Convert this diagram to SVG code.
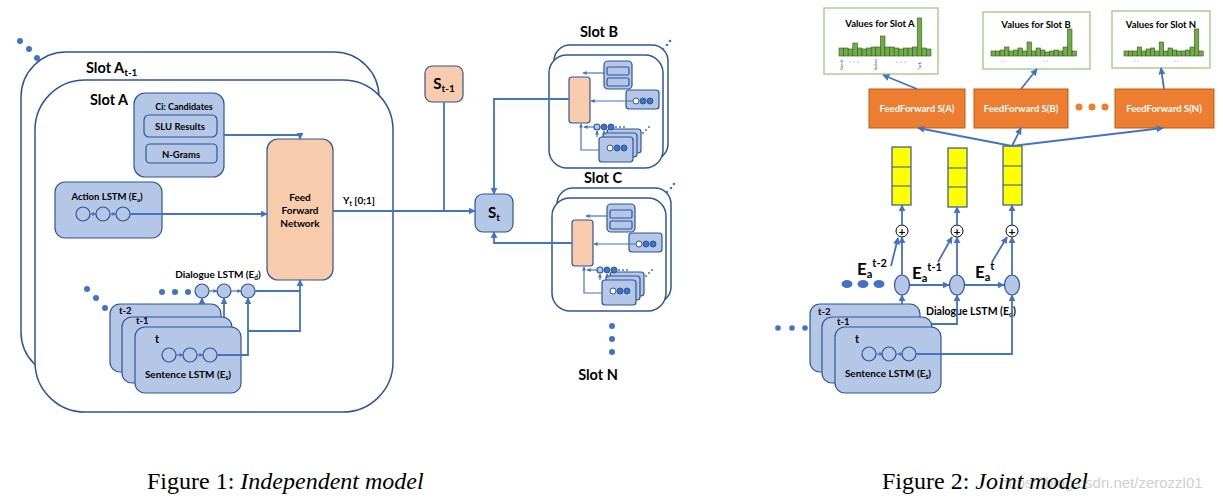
<svg xmlns="http://www.w3.org/2000/svg" width="1223" height="500" viewBox="0 0 1223 500">
<style>
text{font-family:Lato,"Liberation Sans",sans-serif;font-weight:bold;fill:#000}
.slot{fill:#fff;stroke:#2F5597;stroke-width:1.5}
.bx{fill:#B4C7E7;stroke:#2F5597;stroke-width:1.2}
.pe{fill:#F8CBAD;stroke:#2F5597;stroke-width:1.2}
.cir{fill:#B4C7E7;stroke:#2F5597;stroke-width:1.2}
.dot{fill:#4472C4}
.c{fill:none;stroke:#4472C4;stroke-width:1.8}
.cs{fill:none;stroke:#4472C4;stroke-width:1.2}
.vb{fill:#fff;stroke:#A9D18E;stroke-width:1.5}
.bar{fill:#70AD47;stroke:#385723;stroke-width:0.6}
.ff{fill:#ED7D31;stroke:#C55A11;stroke-width:1}
.ye{fill:#FFFF00;stroke:#2F5597;stroke-width:1.2}
.w{fill:#fff}
.cap{font-family:"Liberation Serif",serif;font-weight:normal;font-size:24px}
.tiny{font-size:4px;font-weight:normal;fill:#555}
</style>
<defs>
<marker id="ah" viewBox="0 0 10 10" refX="9" refY="5" markerWidth="7" markerHeight="7" markerUnits="userSpaceOnUse" orient="auto"><path d="M0,0 L10,5 L0,10 z" fill="#4472C4"/></marker>
<marker id="as" viewBox="0 0 10 10" refX="9" refY="5" markerWidth="4" markerHeight="4" markerUnits="userSpaceOnUse" orient="auto"><path d="M0,0 L10,5 L0,10 z" fill="#4472C4"/></marker>
<g id="mini">
<rect x="554" y="45" width="114" height="115" rx="16" class="slot"/>
<rect x="549" y="55" width="114" height="113" rx="18" class="slot"/>
<rect x="569" y="77" width="21" height="46" rx="3" class="pe"/>
<rect x="604" y="61" width="28" height="28" rx="4" class="bx"/>
<rect x="607" y="67" width="22" height="8" rx="1.5" class="bx"/>
<rect x="607" y="78" width="22" height="8" rx="1.5" class="bx"/>
<rect x="626" y="90" width="33" height="19" rx="3" class="bx"/>
<circle cx="636" cy="101" r="3" fill="#fff" stroke="#2F5597"/>
<circle cx="643" cy="101" r="3" fill="#4472C4" stroke="#2F5597"/>
<circle cx="650" cy="101" r="3" fill="#4472C4" stroke="#2F5597"/>
<rect x="607" y="129" width="34" height="24" rx="3" class="bx"/>
<rect x="603" y="133" width="34" height="24" rx="3" class="bx"/>
<rect x="599" y="137" width="34" height="25" rx="3" class="bx"/>
<circle cx="610" cy="148" r="3" fill="#fff" stroke="#2F5597"/>
<circle cx="617" cy="148" r="3" fill="#4472C4" stroke="#2F5597"/>
<circle cx="624" cy="148" r="3" fill="#4472C4" stroke="#2F5597"/>
<circle cx="597" cy="127" r="3" class="cir"/>
<circle cx="604" cy="127" r="3" fill="#4472C4" stroke="#2F5597"/>
<circle cx="611" cy="127" r="3" fill="#4472C4" stroke="#2F5597"/>
<circle cx="616" cy="127" r="1" class="dot"/><circle cx="620" cy="127" r="1" class="dot"/><circle cx="624" cy="127" r="1" class="dot"/>
<circle cx="643" cy="133" r="1" class="dot"/><circle cx="646" cy="130" r="1" class="dot"/><circle cx="649" cy="127" r="1" class="dot"/>
<path class="cs" d="M604,73 H583" marker-end="url(#as)"/>
<path class="cs" d="M633,101 H591" marker-end="url(#as)"/>
<path class="cs" d="M599,150 H581 V124" marker-end="url(#as)"/>
<path class="cs" d="M594,127 H584" marker-end="url(#as)"/>
<path class="cs" d="M597,137 V131" marker-end="url(#as)"/>
<path class="cs" d="M604,133 V131" marker-end="url(#as)"/>
</g>
</defs>
<rect width="1223" height="500" fill="#fff"/>

<!-- ===== Figure 1 ===== -->
<g id="dots-slotA">
<circle cx="20" cy="41" r="3" class="dot"/><circle cx="29" cy="49" r="3" class="dot"/><circle cx="37" cy="58" r="3" class="dot"/>
</g>
<g id="slotA-prev">
<rect x="21" y="52" width="358" height="325" rx="45" class="slot"/>
<text x="86" y="73" font-size="14.5">Slot A<tspan font-size="10" dy="3">t-1</tspan></text>
</g>
<g id="slotA">
<rect x="35" y="80" width="358" height="332" rx="50" class="slot"/>
<text x="90" y="105" font-size="14.5">Slot A</text>
</g>
<g id="candidates">
<rect x="134" y="93" width="90" height="84" rx="11" class="bx"/>
<text x="184" y="110" font-size="9" text-anchor="middle">Ci: Candidates</text>
<rect x="144" y="115" width="73" height="22" rx="5" class="bx"/>
<text x="180" y="130" font-size="9.5" text-anchor="middle">SLU Results</text>
<rect x="146" y="144" width="71" height="19" rx="4" class="bx"/>
<text x="181" y="158" font-size="9.5" text-anchor="middle">N-Grams</text>
</g>
<g id="action-lstm">
<rect x="55" y="182" width="107" height="56" rx="10" class="bx"/>
<text x="107" y="200" font-size="9.5" text-anchor="middle">Action LSTM (E<tspan font-size="6" dy="2">a</tspan><tspan dy="-2">)</tspan></text>
<circle cx="83" cy="214" r="7" class="cir"/><circle cx="103" cy="214" r="7" class="cir"/><circle cx="123" cy="214" r="7" class="cir"/>
</g>
<g id="ffn">
<rect x="267" y="139" width="66" height="141" rx="11" class="pe"/>
<text x="300" y="201" font-size="10" text-anchor="middle">Feed</text>
<text x="300" y="214" font-size="10" text-anchor="middle">Forward</text>
<text x="300" y="227" font-size="10" text-anchor="middle">Network</text>
</g>
<g id="yt-label"><text x="343" y="204" font-size="10">Y<tspan font-size="6.5" dy="2">t</tspan><tspan dy="-2"> [0;1]</tspan></text></g>
<g id="dialogue-lstm">
<text x="218" y="278" font-size="10" text-anchor="middle">Dialogue LSTM (E<tspan font-size="6.5" dy="2">d</tspan><tspan dy="-2">)</tspan></text>
<circle cx="202" cy="291" r="7" class="cir"/><circle cx="224" cy="291" r="7" class="cir"/><circle cx="248" cy="291" r="7" class="cir"/>
<circle cx="162" cy="292" r="3" class="dot"/><circle cx="175" cy="292" r="3" class="dot"/><circle cx="188" cy="292" r="3" class="dot"/>
<circle cx="87" cy="289" r="3" class="dot"/><circle cx="96" cy="298" r="3" class="dot"/><circle cx="105" cy="308" r="3" class="dot"/>
</g>
<g id="sentence-lstm">
<rect x="110" y="304" width="111" height="68" rx="10" class="bx"/>
<text x="119" y="314" font-size="9.5">t-2</text>
<rect x="122" y="317" width="110" height="66" rx="10" class="bx"/>
<text x="136" y="324" font-size="9.5">t-1</text>
<rect x="135" y="327" width="106" height="66" rx="10" class="bx"/>
<text x="155" y="343" font-size="11">t</text>
<circle cx="169" cy="355" r="7" class="cir"/><circle cx="190" cy="355" r="7" class="cir"/><circle cx="210" cy="355" r="7" class="cir"/>
<text x="188" y="378" font-size="10" text-anchor="middle">Sentence LSTM (E<tspan font-size="6.5" dy="2">s</tspan><tspan dy="-2">)</tspan></text>
</g>

<g id="s-prev">
<rect x="425" y="66" width="38" height="36" rx="7" class="pe"/>
<text x="444" y="89" font-size="15" text-anchor="middle">S<tspan font-size="10" dy="3">t-1</tspan></text>
</g>
<g id="s-t">
<rect x="475" y="194" width="38" height="38" rx="8" class="bx"/>
<text x="494" y="218" font-size="15" text-anchor="middle">S<tspan font-size="10" dy="3">t</tspan></text>
</g>
<g id="slotB">
<use href="#mini"/>
<text x="599" y="37" font-size="14.5" text-anchor="middle">Slot B</text>
<circle cx="663" cy="49" r="1.3" class="dot"/><circle cx="667" cy="45" r="1.3" class="dot"/><circle cx="670" cy="41" r="1.3" class="dot"/>
</g>
<g id="slotC">
<use href="#mini" transform="translate(3,143)"/>
<text x="603" y="183" font-size="14.5" text-anchor="middle">Slot C</text>
<circle cx="667" cy="192" r="1.3" class="dot"/><circle cx="671" cy="188" r="1.3" class="dot"/><circle cx="674" cy="184" r="1.3" class="dot"/>
</g>
<g id="slotN">
<circle cx="612" cy="326" r="3" class="dot"/><circle cx="612" cy="339" r="3" class="dot"/><circle cx="612" cy="352" r="3" class="dot"/>
<text x="598" y="380" font-size="14.5" text-anchor="middle">Slot N</text>
</g>

<g id="connectors-fig1">
<path class="c" d="M224,135 H300 V139" marker-end="url(#ah)"/>
<path class="c" d="M130,214 H267" marker-end="url(#ah)"/>
<path class="cs" d="M90,214 H96" marker-end="url(#as)"/>
<path class="cs" d="M110,214 H116" marker-end="url(#as)"/>
<path class="c" d="M333,211 H475" marker-end="url(#ah)"/>
<path class="c" d="M444,102 V211"/>
<path class="c" d="M255,291 H300"/>
<path class="c" d="M248,331 H300 V280" marker-end="url(#ah)"/>
<path class="c" d="M217,355 H248 V298" marker-end="url(#ah)"/>
<path class="c" d="M202,304 V298" marker-end="url(#ah)"/>
<path class="c" d="M224,317 V298" marker-end="url(#ah)"/>
<path class="cs" d="M209,291 H217" marker-end="url(#as)"/>
<path class="cs" d="M231,291 H241" marker-end="url(#as)"/>
<path class="cs" d="M176,355 H183" marker-end="url(#as)"/>
<path class="cs" d="M197,355 H203" marker-end="url(#as)"/>
<path class="c" d="M569,99 H494 V194" marker-end="url(#ah)"/>
<path class="c" d="M572,243 H494 V232" marker-end="url(#ah)"/>
</g>

<!-- ===== Figure 2 ===== -->
<g id="valuesA">
<rect x="824" y="8" width="114" height="66" class="vb"/>
<g class="bar">
<rect x="839" y="48" width="4.6" height="8"/><rect x="843.6" y="48" width="4.6" height="8"/><rect x="848.2" y="49" width="4.6" height="7"/><rect x="852.8" y="43" width="4.6" height="13"/><rect x="857.4" y="48" width="4.6" height="8"/><rect x="862" y="49" width="4.6" height="7"/><rect x="866.6" y="48" width="4.6" height="8"/><rect x="871.2" y="47" width="4.6" height="9"/><rect x="875.8" y="47" width="4.6" height="9"/><rect x="880.4" y="36" width="4.6" height="20"/><rect x="885" y="47" width="4.6" height="9"/><rect x="889.6" y="47" width="4.6" height="9"/><rect x="894.2" y="48" width="4.6" height="8"/><rect x="898.8" y="49" width="4.6" height="7"/><rect x="903.4" y="48" width="4.6" height="8"/><rect x="908" y="48" width="4.6" height="8"/><rect x="912.6" y="47" width="4.6" height="9"/><rect x="917.2" y="18" width="4.6" height="38"/><rect x="921.8" y="48" width="4.6" height="8"/><rect x="926.4" y="49" width="4.6" height="7"/>
</g>
<text x="880" y="27" font-size="9.5" text-anchor="middle">Values for Slot A</text>
<text class="tiny" transform="translate(843,70) rotate(-90)">Greek</text>
<text class="tiny" transform="translate(877,70) rotate(-90)">Indian</text>
<text class="tiny" transform="translate(921,70) rotate(-90)">Turk</text>
<circle cx="850" cy="62" r="0.6" fill="#777"/><circle cx="854" cy="62" r="0.6" fill="#777"/><circle cx="858" cy="62" r="0.6" fill="#777"/>
<circle cx="897" cy="62" r="0.6" fill="#777"/><circle cx="901" cy="62" r="0.6" fill="#777"/><circle cx="905" cy="62" r="0.6" fill="#777"/>
</g>
<g id="valuesB">
<rect x="983" y="12" width="107" height="57" class="vb"/>
<g class="bar">
<rect x="991" y="51" width="4.5" height="5"/><rect x="995.5" y="51" width="4.5" height="5"/><rect x="1000" y="50" width="4.5" height="6"/><rect x="1004.5" y="47" width="4.5" height="9"/><rect x="1009" y="51" width="4.5" height="5"/><rect x="1013.5" y="50" width="4.5" height="6"/><rect x="1018" y="48" width="4.5" height="8"/><rect x="1022.5" y="51" width="4.5" height="5"/><rect x="1027" y="42" width="4.5" height="14"/><rect x="1031.5" y="51" width="4.5" height="5"/><rect x="1036" y="48" width="4.5" height="8"/><rect x="1040.5" y="50" width="4.5" height="6"/><rect x="1045" y="52" width="4.5" height="4"/><rect x="1049.5" y="51" width="4.5" height="5"/><rect x="1054" y="50" width="4.5" height="6"/><rect x="1058.5" y="51" width="4.5" height="5"/><rect x="1063" y="47" width="4.5" height="9"/><rect x="1067.5" y="29" width="4.5" height="27"/><rect x="1072" y="51" width="4.5" height="5"/>
</g>
<text x="1036" y="28" font-size="9.5" text-anchor="middle">Values for Slot B</text>
<circle cx="1002" cy="61" r="0.6" fill="#999"/><circle cx="1005" cy="61" r="0.6" fill="#999"/><circle cx="1044" cy="61" r="0.6" fill="#999"/><circle cx="1047" cy="61" r="0.6" fill="#999"/>
</g>
<g id="valuesN">
<rect x="1112" y="11" width="98" height="57" class="vb"/>
<g class="bar">
<rect x="1124" y="51" width="4.4" height="5"/><rect x="1128.4" y="51" width="4.4" height="5"/><rect x="1132.8" y="51" width="4.4" height="5"/><rect x="1137.2" y="47" width="4.4" height="9"/><rect x="1141.6" y="51" width="4.4" height="5"/><rect x="1146" y="49" width="4.4" height="7"/><rect x="1150.4" y="48" width="4.4" height="8"/><rect x="1154.8" y="51" width="4.4" height="5"/><rect x="1159.2" y="42" width="4.4" height="14"/><rect x="1163.6" y="51" width="4.4" height="5"/><rect x="1168" y="48" width="4.4" height="8"/><rect x="1172.4" y="50" width="4.4" height="6"/><rect x="1176.8" y="51" width="4.4" height="5"/><rect x="1181.2" y="51" width="4.4" height="5"/><rect x="1185.6" y="50" width="4.4" height="6"/><rect x="1190" y="47" width="4.4" height="9"/><rect x="1194.4" y="29" width="4.4" height="27"/><rect x="1198.8" y="51" width="4.4" height="5"/>
</g>
<text x="1161" y="28" font-size="9.5" text-anchor="middle">Values for Slot N</text>
<circle cx="1135" cy="61" r="0.6" fill="#999"/><circle cx="1138" cy="61" r="0.6" fill="#999"/><circle cx="1175" cy="61" r="0.6" fill="#999"/><circle cx="1178" cy="61" r="0.6" fill="#999"/>
</g>
<g id="ffA"><rect x="869" y="89" width="96" height="39" class="ff"/><text x="917" y="112" font-size="9.5" text-anchor="middle" class="w" style="fill:#fff">FeedForward S(A)</text></g>
<g id="ffB"><rect x="974" y="89" width="94" height="39" class="ff"/><text x="1021" y="112" font-size="9.5" text-anchor="middle" style="fill:#fff">FeedForward S(B)</text></g>
<g id="ffN"><rect x="1115" y="89" width="99" height="39" class="ff"/><text x="1164" y="112" font-size="9.5" text-anchor="middle" style="fill:#fff">FeedForward S(N)</text></g>
<g id="ff-dots"><circle cx="1079" cy="107" r="3.5" fill="#ED7D31"/><circle cx="1092" cy="107" r="3.5" fill="#ED7D31"/><circle cx="1105" cy="107" r="3.5" fill="#ED7D31"/></g>
<g id="col1"><rect x="892" y="147" width="19" height="58" class="ye"/><path d="M892,167 H911 M892,186 H911" stroke="#2F5597" stroke-width="1.2"/></g>
<g id="col2"><rect x="948" y="148" width="19" height="59" class="ye"/><path d="M948,168 H967 M948,187 H967" stroke="#2F5597" stroke-width="1.2"/></g>
<g id="col3"><rect x="1003" y="146" width="19" height="59" class="ye"/><path d="M1003,166 H1022 M1003,185 H1022" stroke="#2F5597" stroke-width="1.2"/></g>
<g id="plus1"><circle cx="902" cy="231" r="6" fill="#fff" stroke="#000" stroke-width="1"/><text x="902" y="235.5" font-size="12" text-anchor="middle">+</text></g>
<g id="plus2"><circle cx="957" cy="231" r="6" fill="#fff" stroke="#000" stroke-width="1"/><text x="957" y="235.5" font-size="12" text-anchor="middle">+</text></g>
<g id="plus3"><circle cx="1012" cy="231" r="6" fill="#fff" stroke="#000" stroke-width="1"/><text x="1012" y="235.5" font-size="12" text-anchor="middle">+</text></g>
<g id="dlstm2">
<ellipse cx="902" cy="285" rx="7.5" ry="10" class="cir"/><ellipse cx="957" cy="285" rx="7.5" ry="10" class="cir"/><ellipse cx="1012" cy="285" rx="7.5" ry="10" class="cir"/>
<ellipse cx="847" cy="284" rx="5.5" ry="4" class="dot"/><ellipse cx="863" cy="284" rx="5.5" ry="4" class="dot"/><ellipse cx="879" cy="284" rx="5.5" ry="4" class="dot"/>
<text x="926" y="315" font-size="10.5">Dialogue LSTM (E<tspan font-size="7" dy="2">d</tspan><tspan dy="-2">)</tspan></text>
</g>
<g id="ea-labels">
<text x="857" y="275" font-size="17">E<tspan font-size="11" dy="3">a</tspan><tspan font-size="11" dy="-11">t-2</tspan></text>
<text x="912" y="279" font-size="17">E<tspan font-size="11" dy="3">a</tspan><tspan font-size="11" dy="-11">t-1</tspan></text>
<text x="975" y="278" font-size="17">E<tspan font-size="11" dy="3">a</tspan><tspan font-size="11" dy="-11">t</tspan></text>
</g>
<g id="sentence-lstm2">
<circle cx="778" cy="328" r="2.8" class="dot"/><circle cx="792" cy="328" r="2.8" class="dot"/><circle cx="805" cy="328" r="2.8" class="dot"/>
<rect x="810" y="304" width="110" height="68" rx="10" class="bx"/>
<text x="818" y="315" font-size="9.5">t-2</text>
<rect x="822" y="317" width="110" height="66" rx="10" class="bx"/>
<text x="837" y="325" font-size="9.5">t-1</text>
<rect x="835" y="327" width="106" height="66" rx="10" class="bx"/>
<text x="855" y="343" font-size="11">t</text>
<circle cx="869" cy="354" r="7" class="cir"/><circle cx="889" cy="354" r="7" class="cir"/><circle cx="909" cy="354" r="7" class="cir"/>
<text x="888" y="377" font-size="10" text-anchor="middle">Sentence LSTM (E<tspan font-size="6.5" dy="2">s</tspan><tspan dy="-2">)</tspan></text>
</g>
<g id="connectors-fig2">
<path class="c" d="M917,89 L883,75" marker-end="url(#ah)"/>
<path class="c" d="M1021,89 L1037,69" marker-end="url(#ah)"/>
<path class="c" d="M1164,89 L1161,68" marker-end="url(#ah)"/>
<path class="c" d="M1012,146 L918,128" marker-end="url(#ah)"/>
<path class="c" d="M1012,146 L1021,128" marker-end="url(#ah)"/>
<path class="c" d="M1012,146 L1163,128" marker-end="url(#ah)"/>
<path class="c" d="M902,225 V205" marker-end="url(#ah)"/>
<path class="c" d="M957,225 V207" marker-end="url(#ah)"/>
<path class="c" d="M1012,225 V205" marker-end="url(#ah)"/>
<path class="c" d="M902,275 V237" marker-end="url(#ah)"/>
<path class="c" d="M957,275 V237" marker-end="url(#ah)"/>
<path class="c" d="M1012,275 V237" marker-end="url(#ah)"/>
<path class="c" d="M910,285 H949" marker-end="url(#ah)"/>
<path class="c" d="M965,285 H1004" marker-end="url(#ah)"/>
<path class="c" d="M891,266 L898,238" marker-end="url(#ah)"/>
<path class="c" d="M938,262 L952,237" marker-end="url(#ah)"/>
<path class="c" d="M992,262 L1007,237" marker-end="url(#ah)"/>
<path class="c" d="M902,304 V295" marker-end="url(#ah)"/>
<path class="c" d="M932,324 H957 V295" marker-end="url(#ah)"/>
<path class="c" d="M916,354 H1012 V295" marker-end="url(#ah)"/>
<path class="cs" d="M876,354 H883" marker-end="url(#as)"/>
<path class="cs" d="M896,354 H903" marker-end="url(#as)"/>
</g>

<g id="captions">
<text x="147" y="489" class="cap">Figure 1: <tspan font-style="italic">Independent model</tspan></text>
<text x="1000" y="488" font-size="15" style="font-family:'Liberation Sans',sans-serif;font-weight:normal;fill:#d0d0d0">https://blog.csdn.net/zerozzl01</text>
<text x="882" y="489" class="cap">Figure 2: <tspan font-style="italic">Joint model</tspan></text>
</g>
</svg>
